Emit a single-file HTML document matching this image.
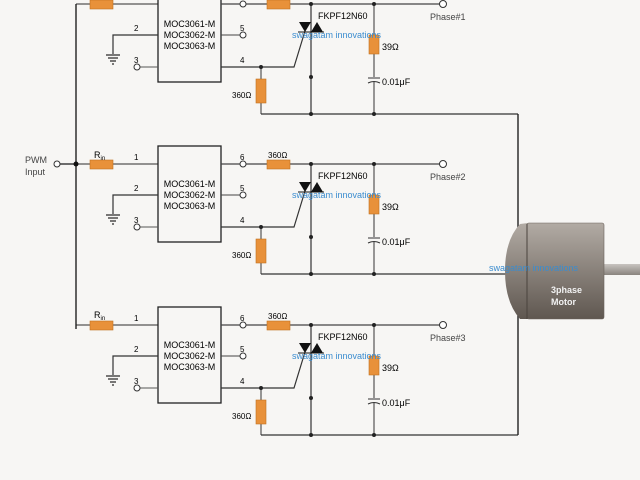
<!DOCTYPE html>
<html><head><style>
body{margin:0;background:#f7f6f4;}
svg{display:block;font-family:"Liberation Sans",sans-serif;}
</style></head><body>
<svg width="640" height="480" viewBox="0 0 640 480">
<defs>
<linearGradient id="mg" x1="0" y1="0" x2="0" y2="1">
<stop offset="0" stop-color="#b2aba4"/><stop offset="1" stop-color="#5f5750"/></linearGradient>
<linearGradient id="sg" x1="0" y1="0" x2="0" y2="1">
<stop offset="0" stop-color="#c8c4c0"/><stop offset="1" stop-color="#8a847e"/></linearGradient>
<g id="blk">
 <line x1="76" y1="0" x2="158" y2="0" stroke="#555" stroke-width="1.2"/>
 <rect x="90" y="-4" width="23" height="9" fill="#e8913a" stroke="#c07020" stroke-width="0.6"/>
 <text x="134" y="-4" font-size="8">1</text>
 <rect x="158" y="-18" width="63" height="96" fill="none" stroke="#222" stroke-width="1.3"/>
 <text x="189.5" y="23" font-size="9" text-anchor="middle">MOC3061-M</text>
 <text x="189.5" y="34" font-size="9" text-anchor="middle">MOC3062-M</text>
 <text x="189.5" y="45" font-size="9" text-anchor="middle">MOC3063-M</text>
 <text x="134" y="27" font-size="8">2</text>
 <polyline points="158,31 113,31 113,50" fill="none" stroke="#333" stroke-width="1.2"/>
 <g stroke="#333" stroke-width="1.3"><line x1="106" y1="51" x2="120" y2="51"/><line x1="108" y1="54" x2="118" y2="54"/><line x1="110" y1="57" x2="116" y2="57"/><line x1="112" y1="60" x2="114" y2="60"/></g>
 <text x="134" y="59" font-size="8">3</text>
 <line x1="140" y1="63" x2="158" y2="63" stroke="#555"/>
 <circle cx="137" cy="63" r="3" fill="#fff" stroke="#333"/>
 <text x="240" y="-4" font-size="8">6</text>
 <line x1="221" y1="0" x2="443" y2="0" stroke="#444" stroke-width="1.2"/>
 <circle cx="243" cy="0" r="3" fill="#fff" stroke="#333"/>
 <rect x="267" y="-4" width="23" height="9" fill="#e8913a" stroke="#c07020" stroke-width="0.6"/>
 <text x="268" y="-6" font-size="8">360Ω</text>
 <circle cx="443" cy="0" r="3.5" fill="#fff" stroke="#333"/>
 <text x="240" y="27" font-size="8">5</text>
 <line x1="221" y1="31" x2="240" y2="31" stroke="#444"/>
 <circle cx="243" cy="31" r="3" fill="#fff" stroke="#333"/>
 <text x="240" y="59" font-size="8">4</text>
 <polyline points="221,63 294,63 305,27" fill="none" stroke="#333" stroke-width="1.2"/>
 <line x1="261" y1="63" x2="261" y2="110" stroke="#555" stroke-width="1.2"/>
 <rect x="256" y="75" width="10" height="24" fill="#e8913a" stroke="#c07020" stroke-width="0.6"/>
 <text x="232" y="94" font-size="8">360Ω</text>
 <line x1="261" y1="110" x2="518" y2="110" stroke="#333" stroke-width="1.3"/>
 <line x1="311" y1="0" x2="311" y2="110" stroke="#333" stroke-width="1.2"/>
 <polygon points="299,18 311,18 305,28" fill="#111"/>
 <polygon points="311,28 323,28 317,18" fill="#111"/>
 <line x1="298" y1="28" x2="324" y2="28" stroke="#111"/>
 <text x="318" y="15" font-size="9">FKPF12N60</text>
 <line x1="374" y1="0" x2="374" y2="110" stroke="#555" stroke-width="1.2"/>
 <rect x="369" y="31" width="10" height="19" fill="#e8913a" stroke="#c07020" stroke-width="0.6"/>
 <text x="382" y="46" font-size="9">39Ω</text>
 <rect x="366" y="73" width="16" height="5" fill="#f7f6f4"/>
 <line x1="368" y1="74" x2="380" y2="74" stroke="#333"/>
 <path d="M368,79 Q374,76 380,79" fill="none" stroke="#333"/>
 <text x="382" y="81" font-size="9">0.01μF</text>
 <g fill="#222"><circle cx="311" cy="0" r="2"/><circle cx="374" cy="0" r="2"/><circle cx="261" cy="63" r="2"/><circle cx="311" cy="73" r="2"/><circle cx="311" cy="110" r="2"/><circle cx="374" cy="110" r="2"/></g>
 <text x="292" y="34" font-size="9" fill="#3a8ccf">swagatam innovations</text>
</g>
</defs>
<use href="#blk" transform="translate(0,4)"/>
<use href="#blk" transform="translate(0,164)"/>
<use href="#blk" transform="translate(0,325)"/>
<text x="430" y="20" font-size="9" fill="#444">Phase#1</text>
<text x="430" y="180" font-size="9" fill="#444">Phase#2</text>
<text x="430" y="341" font-size="9" fill="#444">Phase#3</text>
<text x="94" y="158" font-size="9">R<tspan font-size="6" dy="2">in</tspan></text>
<text x="94" y="318" font-size="9">R<tspan font-size="6" dy="2">in</tspan></text>
<line x1="76" y1="4" x2="76" y2="329" stroke="#222" stroke-width="1.4"/>
<line x1="60" y1="164" x2="76" y2="164" stroke="#222" stroke-width="1.3"/>
<circle cx="76" cy="164" r="2.5" fill="#111"/>
<circle cx="57" cy="164" r="3" fill="#fff" stroke="#333"/>
<text x="25" y="163" font-size="9" fill="#444">PWM</text>
<text x="25" y="175" font-size="9" fill="#444">Input</text>
<line x1="518" y1="114" x2="518" y2="435" stroke="#222" stroke-width="1.4"/>
<line x1="518" y1="274" x2="506" y2="274" stroke="#222" stroke-width="1.3"/>
<rect x="604" y="264" width="36" height="11" fill="url(#sg)"/>
<path d="M528,223 L520,224 Q505,240 505,271 Q505,302 520,319 L528,319 Z" fill="url(#mg)"/>
<rect x="527" y="223" width="77" height="96" rx="2" fill="url(#mg)" stroke="#6a625b" stroke-width="0.6"/>
<line x1="527" y1="224" x2="527" y2="319" stroke="#4a433d"/>
<text x="551" y="293" font-size="9" font-weight="bold" fill="#f2f2f2">3phase</text>
<text x="551" y="305" font-size="9" font-weight="bold" fill="#f2f2f2">Motor</text>
<text x="489" y="271" font-size="9" fill="#3a8ccf">swagatam innovations</text>
</svg>
</body></html>
